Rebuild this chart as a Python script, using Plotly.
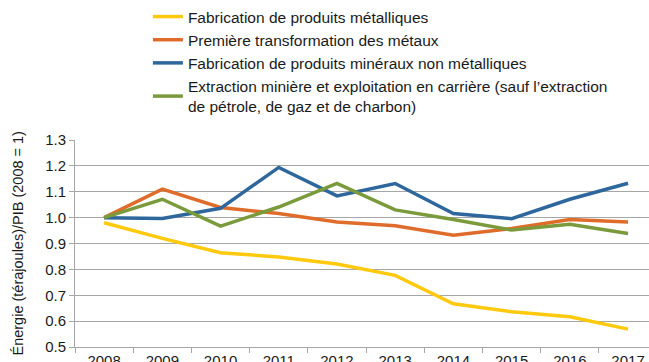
import plotly.graph_objects as go

years = ["2008", "2009", "2010", "2011", "2012", "2013", "2014", "2015", "2016", "2017"]

produits_metalliques = [0.98, 0.92, 0.864, 0.848, 0.821, 0.777, 0.667, 0.636, 0.617, 0.569]
transformation_metaux = [1.0, 1.110, 1.039, 1.016, 0.983, 0.969, 0.932, 0.958, 0.993, 0.983]
mineraux_non_metalliques = [1.0, 0.997, 1.036, 1.194, 1.084, 1.132, 1.016, 0.996, 1.071, 1.133]
extraction_miniere = [1.0, 1.071, 0.967, 1.041, 1.132, 1.030, 0.993, 0.952, 0.974, 0.939]

series = [
    ("Fabrication de produits métalliques", produits_metalliques, "#FFC90E"),
    ("Première transformation des métaux", transformation_metaux, "#DF6C2A"),
    ("Fabrication de produits minéraux non métalliques", mineraux_non_metalliques, "#2E679C"),
    ("Extraction minière et exploitation en carrière (sauf l’extraction<br>de pétrole, de gaz et de charbon)", extraction_miniere, "#7A9A3C"),
]

fig = go.Figure()
for name, vals, color in series:
    fig.add_trace(go.Scatter(
        x=years, y=vals, name=name, mode="lines",
        line=dict(color=color, width=3.5),
    ))

font_family = "Liberation Sans, Arial, sans-serif"
axis_color = "#A6A6A6"

fig.update_layout(
    width=649, height=362,
    margin=dict(l=75, r=0, t=140, b=15, autoexpand=False),
    paper_bgcolor="white", plot_bgcolor="white",
    font=dict(family=font_family, size=15, color="#1a1a1a"),
    showlegend=True,
    legend=dict(
        x=0.127, y=1.0, xref="paper", yref="container",
        xanchor="left", yanchor="top",
        font=dict(size=15.5, color="#1a1a1a"),
        itemwidth=30, tracegroupgap=0,
        bgcolor="rgba(0,0,0,0)",
    ),
    xaxis=dict(
        type="category",
        range=[-0.5, 9.36],
        tickson="boundaries",
        ticks="outside", ticklen=5, tickcolor=axis_color,
        showgrid=False,
        showline=True, linecolor=axis_color, linewidth=1,
        tickfont=dict(size=15),
        automargin=False,
    ),
    yaxis=dict(
        range=[0.5, 1.3],
        dtick=0.1, tickformat=".1f",
        ticks="outside", ticklen=5, tickcolor=axis_color,
        showgrid=True, gridcolor=axis_color, gridwidth=1,
        showline=True, linecolor=axis_color, linewidth=1,
        zeroline=False,
        tickfont=dict(size=15),
        automargin=False,
    ),
    annotations=[dict(
        text="Énergie (térajoules)/PIB (2008 = 1)",
        textangle=-90, showarrow=False,
        xref="paper", yref="paper",
        x=-0.101, y=0.5, xanchor="center", yanchor="middle",
        font=dict(size=14.5, color="#1a1a1a"),
    )],
)

fig.write_html("out.html")
